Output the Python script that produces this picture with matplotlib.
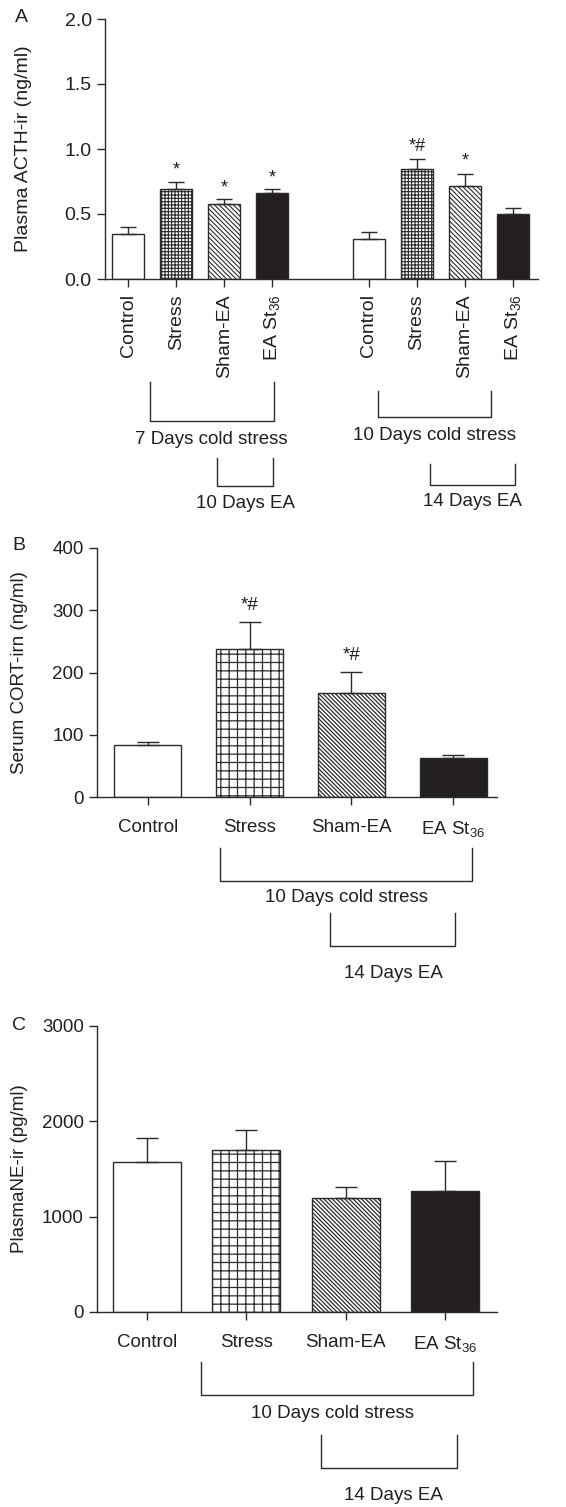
import matplotlib
matplotlib.use('Agg')
import matplotlib.pyplot as plt
import matplotlib.transforms as mtransforms
import numpy as np

plt.rcParams['font.family'] = ['Liberation Sans', 'DejaVu Sans']
plt.rcParams['mathtext.fontset'] = 'custom'
plt.rcParams['mathtext.rm'] = 'Liberation Sans'
plt.rcParams['mathtext.it'] = 'Liberation Sans:italic'
plt.rcParams['mathtext.bf'] = 'Liberation Sans:bold'

# ---------------- data ----------------
groups = ['Control', 'Stress', 'Sham-EA', 'EA St$_{36}$']

acth_7d = [0.35, 0.69, 0.575, 0.66]
acth_7d_err = [0.05, 0.06, 0.04, 0.03]
acth_7d_sig = ['', '*', '*', '*']

acth_10d = [0.31, 0.85, 0.715, 0.50]
acth_10d_err = [0.05, 0.07, 0.095, 0.045]
acth_10d_sig = ['', '*#', '*', '']

cort = [83, 237, 167, 63]
cort_err = [5, 44, 34, 4]
cort_sig = ['', '*#', '*#', '']

ne = [1575, 1700, 1195, 1270]
ne_err = [250, 210, 117, 315]
ne_sig = ['', '', '', '']

# ---------------- style ----------------
W, H = 566, 1507
EDGE = '#2b2b2b'
TEXT = '#231f20'
LW = 1.0
fills = ['white', 'white', 'white', '#231f20']

fig = plt.figure(figsize=(W / 100, H / 100), dpi=100)


def px_rect(l, r, t, b):
    return [l / W, 1 - b / H, (r - l) / W, (b - t) / H]


def fy(py):
    return 1 - py / H


def style_axes(ax, fs):
    for s in ['top', 'right']:
        ax.spines[s].set_visible(False)
    for s in ['left', 'bottom']:
        ax.spines[s].set_linewidth(LW)
        ax.spines[s].set_color(EDGE)
    ax.tick_params(axis='both', direction='out', length=6, width=LW,
                   color=EDGE, labelcolor=TEXT, labelsize=fs)


def draw_bars(ax, x, vals, errs, sig, width, hatches, capsize, sig_off,
              hatch_lw, fs):
    for xi, v, fc, h in zip(x, vals, fills, hatches):
        with plt.rc_context({'hatch.linewidth': hatch_lw, 'hatch.color': EDGE}):
            ax.bar(xi, v, width, color=fc, edgecolor=EDGE, hatch=h,
                   linewidth=LW, zorder=2)
    ax.errorbar(x, vals, yerr=[np.zeros(len(vals)), errs], fmt='none',
                ecolor=EDGE, elinewidth=LW, capsize=capsize, capthick=LW,
                zorder=3)
    for xi, v, e, s in zip(x, vals, errs, sig):
        if s:
            ax.annotate(s, (xi, v + e), xytext=(0, sig_off),
                        textcoords='offset points', ha='center', va='center',
                        fontsize=fs, color=TEXT)


def bracket(ax, x0, x1, ytop, ybot, text, xt, yt, fs):
    trans = mtransforms.blended_transform_factory(ax.transData, fig.transFigure)
    ax.plot([x0, x0, x1, x1], [fy(ytop), fy(ybot), fy(ybot), fy(ytop)],
            transform=trans, clip_on=False, color=EDGE, lw=LW)
    ax.text(xt, fy(yt), text, transform=trans, ha='center', va='center',
            fontsize=fs, color=TEXT)


# ---------------- panel A ----------------
FSA = 14
axA = fig.add_axes(px_rect(105, 538, 19, 279))
style_axes(axA, FSA)
xA1 = np.arange(4)
xA2 = np.arange(4) + 5
hatchA = [None, '+' * 5, '\\' * 7, None]
draw_bars(axA, xA1, acth_7d, acth_7d_err, acth_7d_sig, 0.665, hatchA, 6, 8,
          0.8, 13)
draw_bars(axA, xA2, acth_10d, acth_10d_err, acth_10d_sig, 0.665, hatchA, 6, 9,
          0.8, 13)
axA.set_xlim(-0.48, 8.52)
axA.set_ylim(0, 2.0)
axA.set_yticks([0, 0.5, 1.0, 1.5, 2.0])
axA.set_yticklabels(['0.0', '0.5', '1.0', '1.5', '2.0'])
axA.set_xticks(np.concatenate([xA1, xA2]))
axA.set_xticklabels(groups + groups, rotation=90, va='top', ha='center')
axA.tick_params(axis='x', pad=5)
axA.set_ylabel('Plasma ACTH-ir (ng/ml)', fontsize=14, color=TEXT)
axA.yaxis.set_label_coords(-0.169, 0.5)

bracket(axA, 0.46, 3.03, 382, 421, '7 Days cold stress', 1.73, 440, 13.5)
bracket(axA, 1.85, 3.01, 458, 486, '10 Days EA', 2.45, 503, 13.5)
bracket(axA, 5.2, 7.55, 391, 417, '10 Days cold stress', 6.36, 436, 13.5)
bracket(axA, 6.28, 8.05, 464, 485, '14 Days EA', 7.15, 501, 13.5)

# ---------------- panel B ----------------
FSB = 13.5
axB = fig.add_axes(px_rect(97, 497, 548, 797))
style_axes(axB, FSB)
xB = np.arange(4)
hatchB = [None, '+' * 2, '\\' * 8, None]
draw_bars(axB, xB, cort, cort_err, cort_sig, 0.66, hatchB, 8, 12, 0.9, 13.5)
axB.set_xlim(-0.5, 3.43)
axB.set_ylim(0, 400)
axB.set_yticks([0, 100, 200, 300, 400])
axB.set_xticks(xB)
axB.set_xticklabels(groups)
axB.tick_params(axis='x', pad=10)
axB.set_ylabel('Serum CORT-irn (ng/ml)', fontsize=13.5, color=TEXT)
axB.yaxis.set_label_coords(-0.1725, 0.5)

bracket(axB, 0.71, 3.18, 848, 881, '10 Days cold stress', 1.95, 897, FSB)
bracket(axB, 1.79, 3.02, 913, 946, '14 Days EA', 2.41, 973, FSB)

# ---------------- panel C ----------------
axC = fig.add_axes(px_rect(97, 497, 1026, 1312))
style_axes(axC, FSB)
xC = np.arange(4)
draw_bars(axC, xC, ne, ne_err, ne_sig, 0.68, hatchB, 8, 12, 0.9, 13.5)
axC.set_xlim(-0.5, 3.52)
axC.set_ylim(0, 3000)
axC.set_yticks([0, 1000, 2000, 3000])
axC.set_xticks(xC)
axC.set_xticklabels(groups)
axC.tick_params(axis='x', pad=10)
axC.set_ylabel('PlasmaNE-ir (pg/ml)', fontsize=13.5, color=TEXT)
axC.yaxis.set_label_coords(-0.1725, 0.5)

bracket(axC, 0.55, 3.28, 1362, 1395, '10 Days cold stress', 1.87, 1413, FSB)
bracket(axC, 1.75, 3.12, 1435, 1468, '14 Days EA', 2.48, 1495, FSB)

# panel letters
fig.text(21 / W, fy(18), 'A', ha='center', va='center', fontsize=14, color=TEXT)
fig.text(19 / W, fy(546), 'B', ha='center', va='center', fontsize=14, color=TEXT)
fig.text(19 / W, fy(1026), 'C', ha='center', va='center', fontsize=14, color=TEXT)

fig.savefig('out.png', dpi=100)
